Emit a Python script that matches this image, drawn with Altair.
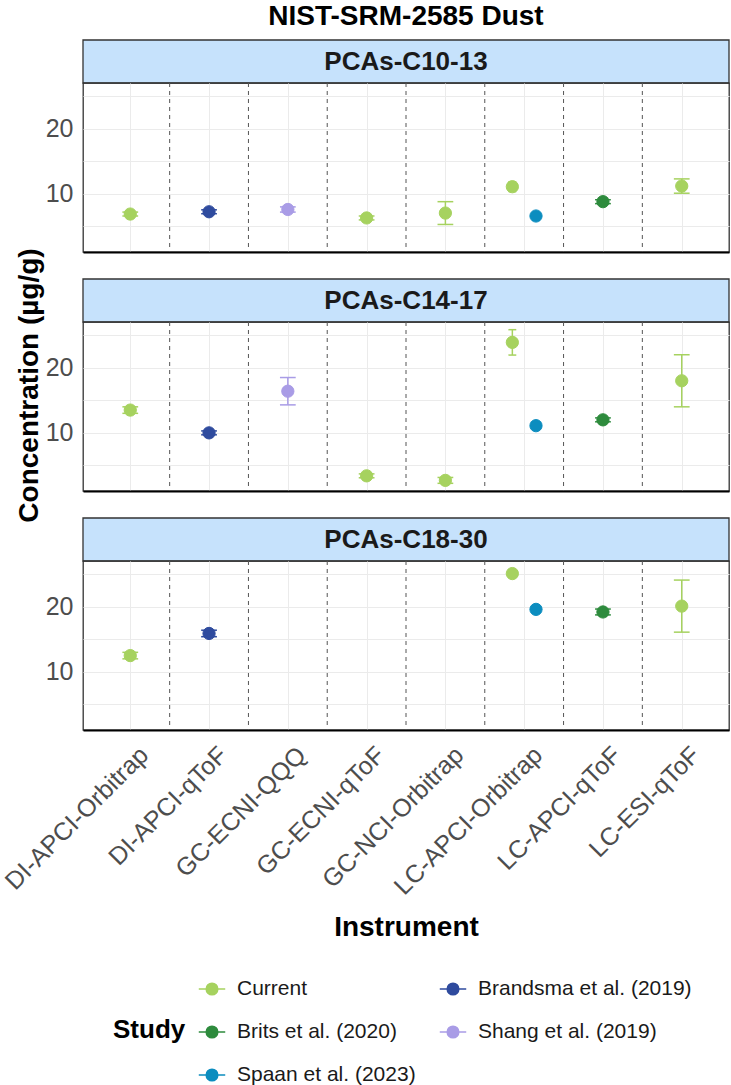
import json
import altair as alt
import pandas as pd

# ---- data -------------------------------------------------------------
panels = ["PCAs-C10-13", "PCAs-C14-17", "PCAs-C18-30"]
instruments = ["DI-APCI-Orbitrap", "DI-APCI-qToF", "GC-ECNI-QQQ", "GC-ECNI-qToF",
               "GC-NCI-Orbitrap", "LC-APCI-Orbitrap", "LC-APCI-qToF", "LC-ESI-qToF"]
studies = ["Current", "Brits et al. (2020)", "Spaan et al. (2023)",
           "Brandsma et al. (2019)", "Shang et al. (2019)"]
study_colors = ["#A6D25F", "#2E8B3D", "#0C8DBF", "#2F4B9E", "#A99CE6"]

group = ["PCAs-C10-13"] * 9 + ["PCAs-C14-17"] * 9 + ["PCAs-C18-30"] * 6
instrument = [
    "DI-APCI-Orbitrap", "DI-APCI-qToF", "GC-ECNI-QQQ", "GC-ECNI-qToF", "GC-NCI-Orbitrap",
    "LC-APCI-Orbitrap", "LC-APCI-Orbitrap", "LC-APCI-qToF", "LC-ESI-qToF",
    "DI-APCI-Orbitrap", "DI-APCI-qToF", "GC-ECNI-QQQ", "GC-ECNI-qToF", "GC-NCI-Orbitrap",
    "LC-APCI-Orbitrap", "LC-APCI-Orbitrap", "LC-APCI-qToF", "LC-ESI-qToF",
    "DI-APCI-Orbitrap", "DI-APCI-qToF",
    "LC-APCI-Orbitrap", "LC-APCI-Orbitrap", "LC-APCI-qToF", "LC-ESI-qToF",
]
study = [
    "Current", "Brandsma et al. (2019)", "Shang et al. (2019)", "Current", "Current",
    "Current", "Spaan et al. (2023)", "Brits et al. (2020)", "Current",
    "Current", "Brandsma et al. (2019)", "Shang et al. (2019)", "Current", "Current",
    "Current", "Spaan et al. (2023)", "Brits et al. (2020)", "Current",
    "Current", "Brandsma et al. (2019)",
    "Current", "Spaan et al. (2023)", "Brits et al. (2020)", "Current",
]
conc = [6.9, 7.25, 7.6, 6.3, 7.05, 11.1, 6.6, 8.8, 11.2,
        13.5, 10.0, 16.4, 3.4, 2.7, 23.9, 11.1, 12.0, 18.0,
        12.5, 15.9, 25.1, 19.6, 19.2, 20.1]
err = [0.3, 0.3, 0.4, 0.3, 1.75, 0.75, 0.2, 0.3, 1.1,
       0.5, 0.3, 2.1, 0.3, 0.45, 1.95, 0.2, 0.3, 4.0,
       0.5, 0.5, 0.5, 0.2, 0.45, 4.0]

# ---- derived positions (dodge within an instrument) --------------------
df = pd.DataFrame({"group": group, "instrument": instrument, "study": study,
                   "conc": conc, "err": err})
df["idx"] = df["instrument"].map(lambda s: instruments.index(s) + 1)
df["srank"] = df["study"].map(lambda s: studies.index(s))
df = df.sort_values(["group", "idx", "srank"]).reset_index(drop=True)
df["n"] = df.groupby(["group", "instrument"])["study"].transform("count")
df["k"] = df.groupby(["group", "instrument"]).cumcount()
DODGE = 0.6
CAP = 0.2
df["xpos"] = df["idx"] + (df["k"] - (df["n"] - 1) / 2) * DODGE / df["n"]
df["lo"] = df["conc"] - df["err"]
df["hi"] = df["conc"] + df["err"]
df["capL"] = df["xpos"] - CAP / 2 / df["n"]
df["capR"] = df["xpos"] + CAP / 2 / df["n"]

ylo, yhi = df["lo"].min(), df["hi"].max()
ypad = 0.05 * (yhi - ylo)
yscale = alt.Scale(domain=[ylo - ypad, yhi + ypad], nice=False, zero=False)
xscale = alt.Scale(domain=[0.4, len(instruments) + 0.6], nice=False, zero=False)

seps = pd.DataFrame({"sep": [i + 0.5 for i in range(1, len(instruments))]})

label_expr = json.dumps(instruments) + "[round(datum.value) - 1]"

W, SH, PH, GAP = 646, 43, 169, 27
FONT = "Liberation Sans"
GRID = "#EBEBEB"
EDGE = "#333333"

# one legend shared by fill and stroke; entries run down the columns
study_legend = alt.Legend(
    title="Study", orient="none", legendX=30, legendY=935, columns=2,
    direction="vertical",
    titleOrient="left", titleAnchor="middle", titleBaseline="middle",
    titleFontSize=26, titleFontWeight="bold", titleColor="black", titlePadding=12,
    labelFontSize=21, labelColor="#1A1A1A", labelOffset=11, labelLimit=400,
    symbolType="M-1,0L1,0M0.44,0A0.44,0.44,0,1,1,-0.44,0A0.44,0.44,0,1,1,0.44,0Z",
    symbolSize=700, symbolStrokeWidth=1.5, symbolOpacity=1,
    columnPadding=20, rowPadding=19,
)
cscale = alt.Scale(domain=studies, range=study_colors)


def x_axis(bottom):
    if bottom:
        return alt.Axis(values=list(range(1, len(instruments) + 1)), labelExpr=label_expr,
                        labelAngle=315, labelAlign="right", labelBaseline="top",
                        labelFontSize=25, labelColor="#4D4D4D", labelPadding=12,
                        labelOffset=5,
                        labelOverlap=False, labelLimit=400, labelFont=FONT,
                        ticks=False, domainColor="black", domainWidth=2,
                        grid=True, gridColor=GRID, gridWidth=1,
                        title="Instrument", titleFontSize=28, titleFontWeight="bold",
                        titleColor="black", titleY=205, titleBaseline="alphabetic",
                        titleFont=FONT)
    return alt.Axis(values=list(range(1, len(instruments) + 1)), labels=False,
                    ticks=False, domainColor="black", domainWidth=2,
                    grid=True, gridColor=GRID, gridWidth=1, title=None)


def y_axis(with_title):
    kw = dict(values=[5, 10, 15, 20, 25],
              labelExpr="datum.value % 10 === 0 ? datum.label : ''",
              labelFontSize=25, labelColor="#4D4D4D", labelPadding=10, labelFont=FONT,
              ticks=False, domain=False, grid=True, gridColor=GRID, gridWidth=1)
    if with_title:
        kw.update(title="Concentration (µg/g)", titleFontSize=28, titleFontWeight="bold",
                  titleColor="black", titleAngle=270, titleX=-46, titleY=63,
                  titleBaseline="alphabetic", titleAlign="center", titleFont=FONT)
    else:
        kw.update(title=None)
    return alt.Axis(**kw)


def panel(name, bottom, with_title):
    d = df[df["group"] == name]
    xa = x_axis(bottom)
    ya = y_axis(with_title)
    stroke = alt.Stroke("study:N", scale=cscale, legend=study_legend)
    fill = alt.Fill("study:N", scale=cscale, legend=study_legend)

    sep = alt.Chart(seps).mark_rule(strokeDash=[4, 4], color="#555555", strokeWidth=1).encode(
        x=alt.X("sep:Q", scale=xscale, axis=xa),
    )
    base = alt.Chart(d)
    bars = base.mark_rule(strokeWidth=1.5).encode(
        x=alt.X("xpos:Q", scale=xscale, axis=xa),
        y=alt.Y("lo:Q", scale=yscale, axis=ya),
        y2="hi:Q",
        stroke=stroke,
    )
    cap_hi = base.mark_rule(strokeWidth=1.5).encode(
        x=alt.X("capL:Q", scale=xscale, axis=xa), x2="capR:Q",
        y=alt.Y("hi:Q", scale=yscale, axis=ya), stroke=stroke,
    )
    cap_lo = base.mark_rule(strokeWidth=1.5).encode(
        x=alt.X("capL:Q", scale=xscale, axis=xa), x2="capR:Q",
        y=alt.Y("lo:Q", scale=yscale, axis=ya), stroke=stroke,
    )
    pts = base.mark_point(filled=True, size=150, opacity=1, strokeWidth=1).encode(
        x=alt.X("xpos:Q", scale=xscale, axis=xa),
        y=alt.Y("conc:Q", scale=yscale, axis=ya),
        fill=fill, stroke=stroke,
    )
    return alt.layer(sep, bars, cap_hi, cap_lo, pts).properties(width=W, height=PH)


def strip(name, gap):
    # strip header; a transparent band of `gap` px above it separates panels
    d = pd.DataFrame({"panel": [name]})
    bg = alt.Chart(d).mark_rect(fill="#C6E2FC", stroke=EDGE, strokeWidth=1.3).encode(
        x=alt.value(0), x2=alt.value(W), y=alt.value(gap), y2=alt.value(gap + SH))
    tx = alt.Chart(d).mark_text(fontSize=26, fontWeight="bold", color="#1A1A1A",
                                baseline="middle", align="center", font=FONT).encode(
        x=alt.value(W / 2), y=alt.value(gap + SH / 2), text="panel:N")
    return alt.layer(bg, tx).properties(
        width=W, height=gap + SH,
        view=alt.ViewBackground(stroke="transparent"))


rows = []
for i, name in enumerate(panels):
    rows.append(strip(name, 0 if i == 0 else GAP))
    rows.append(panel(name, i == len(panels) - 1, i == 1))

chart = alt.vconcat(*rows, spacing=0, bounds="flush").properties(
    title=alt.Title("NIST-SRM-2585 Dust", fontSize=28, fontWeight="bold", color="black",
                    anchor="middle", frame="group", font=FONT, offset=8),
    padding={"left": 0, "top": 2, "right": 0, "bottom": 0},
    background="white",
).configure(font=FONT).configure_view(stroke=EDGE, strokeWidth=1.3)

chart.save("out.html", embed_options={"renderer": "svg", "actions": False})
